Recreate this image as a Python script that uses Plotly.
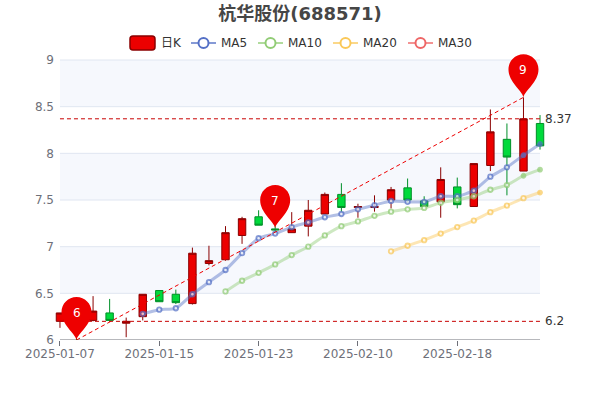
import plotly.graph_objects as go

TITLE = "杭华股份(688571)"
dates = ["2025-01-07","2025-01-08","2025-01-09","2025-01-10","2025-01-13","2025-01-14","2025-01-15",
         "2025-01-16","2025-01-17","2025-01-20","2025-01-21","2025-01-22","2025-01-23","2025-01-24",
         "2025-01-27","2025-02-05","2025-02-06","2025-02-07","2025-02-10","2025-02-11","2025-02-12",
         "2025-02-13","2025-02-14","2025-02-17","2025-02-18","2025-02-19","2025-02-20","2025-02-21",
         "2025-02-24","2025-02-25"]
opens  = [6.20,6.28,6.21,6.29,6.18,6.25,6.53,6.49,6.39,6.82,6.86,7.12,7.32,7.19,7.15,7.22,7.35,7.56,7.42,7.42,7.50,7.63,7.49,7.48,7.64,7.43,7.87,8.15,7.81,8.32]
closes = [6.29,6.20,6.31,6.21,6.20,6.49,6.41,6.40,6.93,6.85,7.15,7.30,7.23,7.18,7.19,7.39,7.56,7.42,7.43,7.43,7.61,7.50,7.43,7.72,7.45,7.89,8.23,7.96,8.37,8.08]
highs  = [6.29,6.40,6.47,6.44,6.24,6.49,6.53,6.54,6.99,7.01,7.22,7.32,7.39,7.22,7.37,7.50,7.58,7.68,7.46,7.55,7.64,7.73,7.54,7.85,7.74,7.89,8.47,8.32,8.60,8.41]
lows   = [6.13,6.00,6.20,6.20,6.03,6.21,6.41,6.385,6.38,6.80,6.85,7.03,7.23,7.16,7.15,7.11,7.35,7.375,7.31,7.375,7.41,7.47,7.43,7.31,7.41,7.43,7.81,7.55,7.81,8.04]
ma5  = [None]*5 + [6.28,6.325,6.34,6.49,6.62,6.75,6.93,7.09,7.14,7.21,7.26,7.315,7.35,7.40,7.445,7.49,7.48,7.48,7.54,7.54,7.60,7.75,7.85,7.98,8.10]
ma10 = [None]*10 + [6.52,6.635,6.72,6.81,6.91,7.00,7.12,7.22,7.27,7.33,7.375,7.40,7.415,7.47,7.50,7.54,7.61,7.66,7.76,7.825]
ma20 = [None]*20 + [6.95,7.01,7.07,7.14,7.21,7.28,7.37,7.44,7.52,7.58]
xticks = ["2025-01-07","2025-01-15","2025-01-23","2025-02-10","2025-02-18"]
yticks = [6,6.5,7,7.5,8,8.5,9]
level_low = 6.2
level_high = 8.37
pin_points = [("2025-01-08",6.0,"6"),("2025-01-24",7.2,"7"),("2025-02-24",8.6,"9")]

FONT = "DejaVu Sans, Noto Sans CJK SC"
HEADROOM_PX = 10         # space above the top tick so the "9" pin is not clipped
EXTRA_Y = HEADROOM_PX*3/280
L, R, B = 55, 545, 340
T = 60 - HEADROOM_PX
def px(x): return (x-L)/(R-L)
def py(y): return (B-y)/(B-T)

shapes, annos = [], []
# split areas and grid
for i in range(len(yticks)-1):
    if i % 2 == 1:
        shapes.append(dict(type="rect", xref="x", yref="y", x0=dates[0], x1=dates[-1],
                           y0=yticks[i], y1=yticks[i+1], fillcolor="#f6f8fd", line_width=0, layer="below"))
for v in yticks[1:]:
    shapes.append(dict(type="line", xref="x", yref="y", x0=dates[0], x1=dates[-1], y0=v, y1=v,
                       line=dict(color="#E0E6F1", width=1), layer="below"))
shapes.append(dict(type="line", xref="x", yref="y", x0=dates[0], x1=dates[-1], y0=6, y1=6,
                   line=dict(color="#6E7079", width=1), layer="below"))

# mark lines
for lv in (level_low, level_high):
    shapes.append(dict(type="line", xref="x", yref="y", x0=dates[0], x1=dates[-1], y0=lv, y1=lv,
                       line=dict(color="#c80000", width=1, dash="4px,3px"), layer="above"))
    annos.append(dict(x=dates[-1], y=lv, xref="x", yref="y", text=str(lv), showarrow=False, xanchor="left",
                      xshift=3, font=dict(size=12, color="#333", family=FONT)))
shapes.append(dict(type="line", xref="x", yref="y", x0=pin_points[0][0], y0=pin_points[0][1],
                   x1=pin_points[2][0], y1=pin_points[2][1],
                   line=dict(color="#ee0000", width=1, dash="4px,3px"), layer="above"))

# pins (pixel-sized, y grows upward)
K = 8.3
PIN = (f"M0,0 C-1.5,7 -15,15 -15,28 C-15,{28+K} -{K},43 0,43 C{K},43 15,{28+K} 15,28 C15,15 1.5,7 0,0 Z")
for d, v, t in pin_points:
    shapes.append(dict(type="path", xref="x", yref="y", xsizemode="pixel", ysizemode="pixel",
                       xanchor=d, yanchor=v, path=PIN, fillcolor="#ee0000", line_width=0, layer="above"))
    annos.append(dict(x=d, y=v, xref="x", yref="y", text=t, showarrow=False, yshift=27, yanchor="middle",
                      font=dict(size=12, color="#fff", family=FONT)))

# legend
def rrect(x0, y0, x1, y1, r):
    return (f"M{px(x0+r)},{py(y0)} L{px(x1-r)},{py(y0)} Q{px(x1)},{py(y0)} {px(x1)},{py(y0+r)} "
            f"L{px(x1)},{py(y1-r)} Q{px(x1)},{py(y1)} {px(x1-r)},{py(y1)} L{px(x0+r)},{py(y1)} "
            f"Q{px(x0)},{py(y1)} {px(x0)},{py(y1-r)} L{px(x0)},{py(y0+r)} Q{px(x0)},{py(y0)} {px(x0+r)},{py(y0)} Z")
shapes.append(dict(type="path", xref="paper", yref="paper", path=rrect(130, 36, 155, 50, 3),
                   fillcolor="#ec0000", line=dict(color="#8A0000", width=1.5), layer="above"))
annos.append(dict(x=px(161), y=py(43), xref="paper", yref="paper", text="日K", showarrow=False, xanchor="left",
                  yanchor="middle", xshift=-2, font=dict(size=12, color="#333", family=FONT)))
for name, c, x0 in [("MA5","#5470C6",191),("MA10","#91CC75",258),("MA20","#FAC858",333),("MA30","#EE6666",408)]:
    shapes.append(dict(type="line", xref="paper", yref="paper", x0=px(x0), x1=px(x0+25), y0=py(43), y1=py(43),
                       line=dict(color=c, width=2), opacity=0.7, layer="above"))
    shapes.append(dict(type="circle", xref="paper", yref="paper", x0=px(x0+7.5), x1=px(x0+17.5), y0=py(48), y1=py(38),
                       fillcolor="#fff", line=dict(color=c, width=2), layer="above"))
    annos.append(dict(x=px(x0+30), y=py(43), xref="paper", yref="paper", text=name, showarrow=False, xanchor="left",
                      yanchor="middle", xshift=-2, font=dict(size=12, color="#333", family=FONT)))

fig = go.Figure()
fig.add_trace(go.Candlestick(x=dates, open=opens, high=highs, low=lows, close=closes, name="日K",
    increasing=dict(line=dict(color="#8A0000", width=1), fillcolor="#ec0000"),
    decreasing=dict(line=dict(color="#008F28", width=1), fillcolor="#00da3c"),
    whiskerwidth=0, showlegend=False, hoverinfo="skip"))

def ma_trace(name, vals, color, rgba, tail):
    n = len(vals)
    sizes = [4.5]*(n-tail) + [4]*tail
    fills = ["#fff"]*(n-tail) + [color]*tail
    return go.Scatter(x=dates, y=vals, name=name, mode="lines+markers", showlegend=False, hoverinfo="skip",
                      line=dict(color=rgba, width=3, shape="spline", smoothing=0.5),
                      marker=dict(size=sizes, color=fills, line=dict(color=color, width=1.8)))
fig.add_trace(ma_trace("MA5", ma5, "#5470C6", "rgba(84,112,198,0.45)", 2))
fig.add_trace(ma_trace("MA10", ma10, "#91CC75", "rgba(145,204,117,0.45)", 2))
fig.add_trace(ma_trace("MA20", ma20, "#FAC858", "rgba(250,200,88,0.45)", 1))

fig.update_layout(
    width=600, height=400, margin=dict(l=L, r=600-R, t=T, b=400-B, pad=0),
    paper_bgcolor="#fff", plot_bgcolor="rgba(0,0,0,0)", showlegend=False,
    font=dict(family=FONT, size=12, color="#6E7079"),
    title=dict(text="<b>"+TITLE+"</b>", x=0.5, xanchor="center", y=1-14/400, yanchor="middle",
               font=dict(size=18, color="#464646", family=FONT)),
    shapes=shapes, annotations=annos, boxgap=0.36, dragmode=False,
    xaxis=dict(type="category", categoryorder="array", categoryarray=dates, range=[-0.3,29.3],
               tickmode="array", tickvals=xticks, ticktext=xticks, showgrid=False, zeroline=False,
               showline=False, ticks="outside", ticklen=5, tickcolor="#6E7079", tickwidth=1,
               ticklabelstandoff=-2,
               rangeslider=dict(visible=False), fixedrange=True, tickfont=dict(size=12, color="#6E7079")),
    yaxis=dict(range=[6,9+EXTRA_Y], tickmode="array", tickvals=yticks, ticktext=[str(v) for v in yticks], showgrid=False,
               zeroline=False, showline=False, ticks="", fixedrange=True, tickfont=dict(size=12, color="#6E7079")),
)
fig.write_html("out.html", config=dict(displayModeBar=False),
               post_script="document.body.style.margin='0';document.documentElement.style.overflow='hidden';")
